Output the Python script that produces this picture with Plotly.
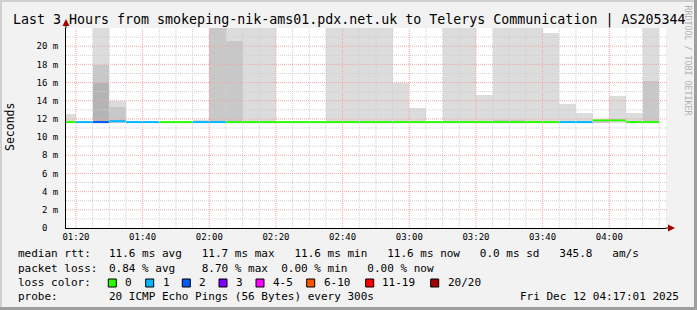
import plotly.graph_objects as go
import pandas as pd

# ---------------- data ----------------
DAY = "2025-12-12"
bin_start = ["01:15", "01:20", "01:25", "01:30", "01:35", "01:40", "01:45", "01:50", "01:55",
             "02:00", "02:05", "02:10", "02:15", "02:20", "02:25", "02:30", "02:35", "02:40",
             "02:45", "02:50", "02:55", "03:00", "03:05", "03:10", "03:15", "03:20", "03:25",
             "03:30", "03:35", "03:40", "03:45", "03:50", "03:55", "04:00", "04:05", "04:10"]
median_ms = [11.65, 11.65, 11.65, 11.75, 11.65, 11.65, 11.65, 11.65, 11.65,
             11.65, 11.65, 11.65, 11.65, 11.65, 11.65, 11.65, 11.65, 11.65,
             11.65, 11.65, 11.65, 11.65, 11.65, 11.65, 11.65, 11.65, 11.65,
             11.65, 11.65, 11.65, 11.65, 11.65, 11.85, 11.85, 11.65, 11.65]
loss_pings = [0, 1, 2, 1, 1, 1, 0, 0, 1,
              1, 0, 0, 0, 0, 0, 0, 0, 0,
              0, 0, 0, 0, 0, 0, 0, 0, 0,
              0, 0, 0, 1, 1, 0, 0, 0, 0]
smoke_low_ms = [11.55] * 32 + [11.5] + [11.55] * 3
smoke_light_ms = [12.5, None, 23, 14.0, None, None, None, None, 11.9,
                  None, 23, 23, 23, None, None, None, 23, 23,
                  23, 23, 16.0, 13.2, None, 23, 23, 14.6, 23,
                  23, 23, 21.4, 13.6, 12.7, None, 14.5, 12.7, 23]
smoke_mid_ms = [None, None, 17.9, 13.3, None, None, None, None, None,
                23, 20.6, None, None, None, None, None, None, None,
                None, None, None, None, None, None, None, None, 11.9,
                11.9, None, None, None, None, 11.8, None, None, 16.2]
smoke_dark_ms = [None, None, 16.0, None, None, None, None, None, None,
                 None, None, None, None, None, None, None, None, None,
                 None, None, None, None, None, None, None, None, None,
                 None, None, None, None, None, None, None, None, None]

y_tick_vals = [0, 2, 4, 6, 8, 10, 12, 14, 16, 18, 20]
y_tick_text = ["0\u00a0\u00a0", "2 m", "4 m", "6 m", "8 m", "10 m", "12 m", "14 m", "16 m", "18 m", "20 m"]
x_tick_times = ["01:20", "01:40", "02:00", "02:20", "02:40", "03:00", "03:20", "03:40", "04:00"]

loss_labels = ["0", "1", "2", "3", "4-5", "6-10", "11-19", "20/20"]
loss_colors = ["#26ff00", "#00b8ff", "#0059ff", "#7e00ff", "#ff00ff", "#ff5500", "#ff0000", "#a10000"]
loss_bucket_of = {0: 0, 1: 1, 2: 2, 3: 3, 4: 4, 5: 4}

title_text = "Last 3 Hours from smokeping-nik-ams01.pdx.net.uk to Telerys Communication | AS205344"
rtt_stats = "11.6 ms avg   11.7 ms max   11.6 ms min   11.6 ms now   0.0 ms sd   345.8   am/s"
loss_stats = "0.84 % avg    8.70 % max  0.00 % min   0.00 % now"
probe_text = "20 ICMP Echo Pings (56 Bytes) every 300s"
date_text = "Fri Dec 12 04:17:01 2025"
range_start = "01:17:01"
range_end = "04:17:01"

# ---------------- helpers ----------------
MONO = "DejaVu Sans Mono"
L, T, W, H = 66, 28, 600, 200
Y_MAX = 22


def px(x):
    return (x - L) / W


def py(y):
    return (T + H - y) / H


def nb(s):
    return s.replace(" ", "\u00a0")


starts = pd.to_datetime([f"{DAY} {t}" for t in bin_start])
step = pd.Timedelta(minutes=5)
centers = starts + step / 2
width_ms = step.total_seconds() * 1000

fig = go.Figure()

# smoke layers
for vals, col in [(smoke_light_ms, "#dcdcdc"), (smoke_mid_ms, "#c8c8c8"), (smoke_dark_ms, "#b4b4b4")]:
    xs, ys, bs = [], [], []
    for c, v, lo in zip(centers, vals, smoke_low_ms):
        if v is None:
            continue
        xs.append(c)
        ys.append(v - lo)
        bs.append(lo)
    fig.add_trace(go.Bar(x=xs, y=ys, base=bs, width=width_ms, marker=dict(color=col, line=dict(width=0)),
                         showlegend=False, hoverinfo="skip"))

# median line, coloured by loss
for bi, col in enumerate(loss_colors):
    xs, ys = [], []
    for s, m, lp in zip(starts, median_ms, loss_pings):
        if loss_bucket_of.get(lp, 7) != bi:
            continue
        xs += [s, s + step, None]
        ys += [m, m, None]
    if xs:
        fig.add_trace(go.Scatter(x=xs, y=ys, mode="lines", line=dict(color=col, width=2),
                                 showlegend=False, hoverinfo="skip"))

shapes = []
# grid (drawn above the smoke like rrdtool)
x0 = pd.Timestamp(f"{DAY} {range_start}")
x1 = pd.Timestamp(f"{DAY} {range_end}")
gx = pd.Timestamp(f"{DAY} 01:20")
while gx < x1:
    major = gx.minute % 20 == 0
    shapes.append(dict(type="line", xref="x", yref="paper", x0=gx, x1=gx, y0=0, y1=1, layer="above",
                       line=dict(color="#f0a8a8" if major else "#cfcfcf", width=1, dash="1px,1px")))
    gx += step
for v in range(1, Y_MAX):
    major = v % 2 == 0
    shapes.append(dict(type="line", xref="paper", yref="y", x0=0, x1=px(668), y0=v, y1=v, layer="above",
                       line=dict(color="#f0a8a8" if major else "#cfcfcf", width=1, dash="1px,1px")))

# axis extensions + arrows
shapes.append(dict(type="line", xref="paper", yref="paper", x0=0, x1=0, y0=1, y1=py(23), line=dict(color="#000", width=1)))
shapes.append(dict(type="path", xref="paper", yref="paper",
                   path=f"M {px(62.5)} {py(26)} L {px(69.5)} {py(26)} L {px(66)} {py(19)} Z",
                   fillcolor="#a00000", line=dict(width=0)))
shapes.append(dict(type="line", xref="paper", yref="paper", x0=1, x1=px(669), y0=0, y1=0, line=dict(color="#000", width=1)))
shapes.append(dict(type="path", xref="paper", yref="paper",
                   path=f"M {px(668)} {py(224.5)} L {px(668)} {py(231.5)} L {px(675)} {py(228)} Z",
                   fillcolor="#a00000", line=dict(width=0)))

# frame borders
shapes.append(dict(type="rect", xref="paper", yref="paper", x0=px(0), x1=px(697), y0=py(0), y1=py(2),
                   fillcolor="#cfcfcf", line=dict(width=0)))
shapes.append(dict(type="rect", xref="paper", yref="paper", x0=px(0), x1=px(2), y0=py(0), y1=py(310),
                   fillcolor="#cfcfcf", line=dict(width=0)))
shapes.append(dict(type="rect", xref="paper", yref="paper", x0=px(0), x1=px(697), y0=py(307), y1=py(310),
                   fillcolor="#9e9e9e", line=dict(width=0)))
shapes.append(dict(type="rect", xref="paper", yref="paper", x0=px(694), x1=px(697), y0=py(0), y1=py(310),
                   fillcolor="#9e9e9e", line=dict(width=0)))

# loss color boxes
box_x = [108.3, 145.7, 182.3, 219, 256, 306.7, 365.7, 430.7]
lab_x = [123, 160.7, 197, 234, 270.7, 321.7, 380, 445.7]
for bx, col in zip(box_x, loss_colors):
    shapes.append(dict(type="rect", xref="paper", yref="paper", x0=px(bx), x1=px(bx + 8), y0=py(279), y1=py(287),
                       fillcolor=col, line=dict(color="#000", width=1)))

ann = []
fnt = dict(family=MONO, size=11, color="#000")
ann.append(dict(text=nb(title_text), x=px(348.5), y=py(19.5), xref="paper", yref="paper", showarrow=False,
                xanchor="center", yanchor="middle", font=dict(family=MONO, size=13.3, color="#000")))
ann.append(dict(text="Seconds", x=px(10), y=py(127), xref="paper", yref="paper", showarrow=False,
                textangle=-90, xanchor="center", yanchor="middle", font=dict(family=MONO, size=11.5, color="#000")))
ann.append(dict(text=nb("RRDTOOL / TOBI OETIKER"), x=px(687.5), y=py(60), xref="paper", yref="paper", showarrow=False,
                textangle=90, xanchor="center", yanchor="middle", font=dict(family=MONO, size=8.3, color="#b0b0b0")))
rows = [(254, "median rtt:", rtt_stats), (268, "packet loss:", loss_stats), (282.5, "loss color:", None),
        (296, "probe:", probe_text)]
for yy, lab, val in rows:
    ann.append(dict(text=nb(lab), x=px(16), y=py(yy), xref="paper", yref="paper", showarrow=False,
                    xanchor="left", yanchor="middle", font=fnt))
    if val:
        ann.append(dict(text=nb(val), x=px(107.3), y=py(yy), xref="paper", yref="paper", showarrow=False,
                        xanchor="left", yanchor="middle", font=fnt))
for lx, lab in zip(lab_x, loss_labels):
    ann.append(dict(text=lab, x=px(lx), y=py(282.5), xref="paper", yref="paper", showarrow=False,
                    xanchor="left", yanchor="middle", font=fnt))
ann.append(dict(text=nb(date_text), x=px(681), y=py(296), xref="paper", yref="paper", showarrow=False,
                xanchor="right", yanchor="middle", font=fnt))

fig.update_layout(
    width=697, height=310,
    margin=dict(l=L, r=697 - L - W, t=T, b=310 - T - H, pad=0),
    paper_bgcolor="#f2f2f2", plot_bgcolor="#ffffff",
    barmode="overlay", bargap=0, showlegend=False,
    shapes=shapes, annotations=ann,
    xaxis=dict(type="date", range=[x0, x1], showgrid=False, zeroline=False,
               tickvals=[pd.Timestamp(f"{DAY} {t}") for t in x_tick_times], ticktext=x_tick_times,
               tickfont=dict(family=MONO, size=9, color="#000"), ticks="", showline=True,
               linecolor="#000", linewidth=1, fixedrange=True),
    yaxis=dict(range=[0, Y_MAX], showgrid=False, zeroline=False, tickvals=y_tick_vals, ticktext=y_tick_text,
               tickfont=dict(family=MONO, size=9, color="#000"), ticks="", showline=True,
               linecolor="#000", linewidth=1, ticklabelstandoff=5, fixedrange=True),
)

fig.write_html("out.html")
